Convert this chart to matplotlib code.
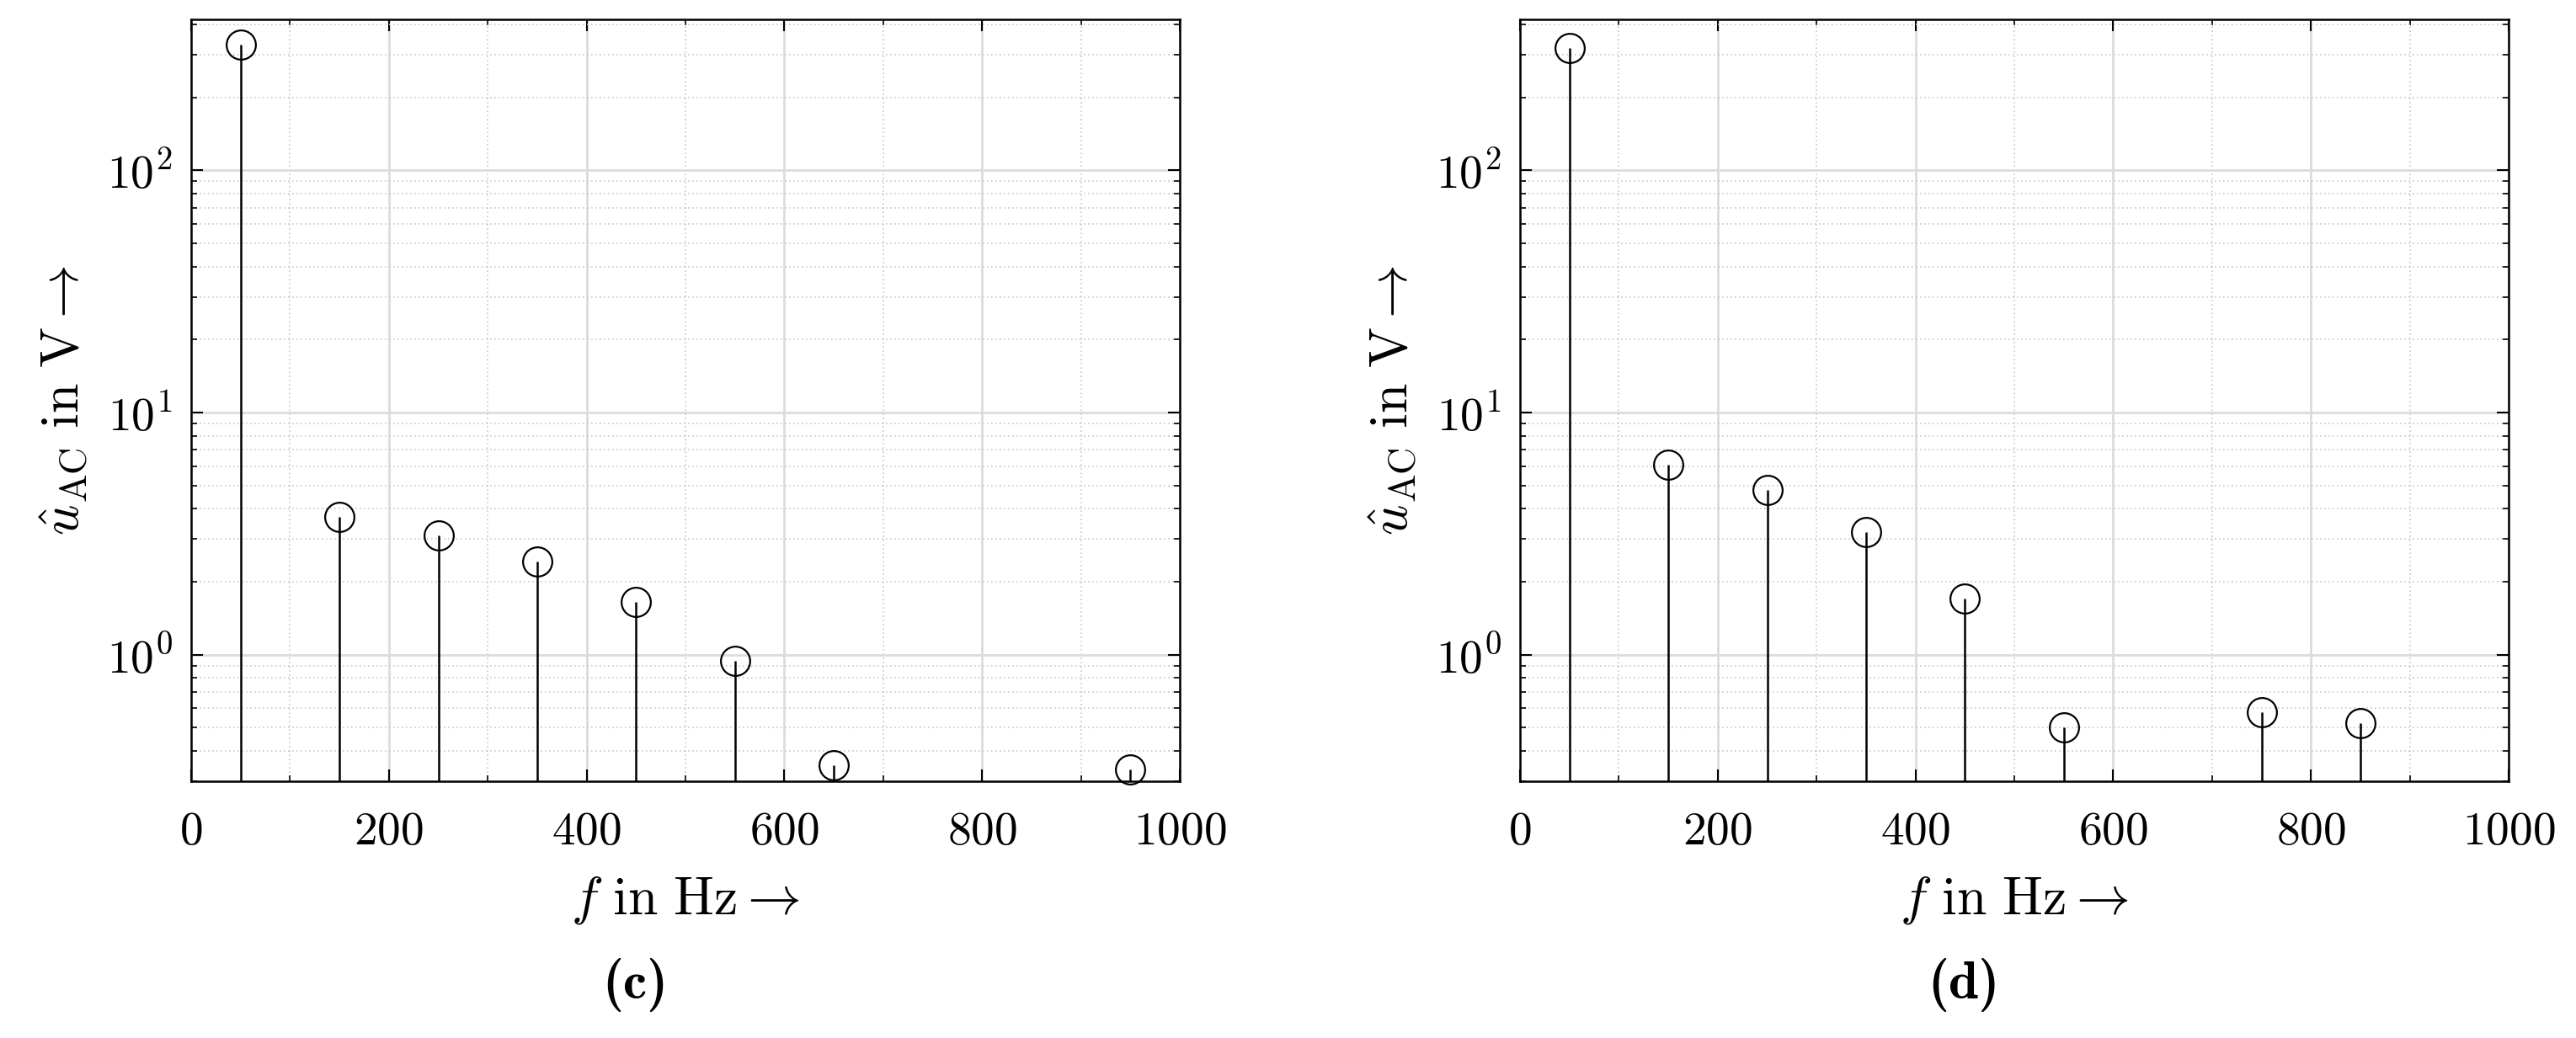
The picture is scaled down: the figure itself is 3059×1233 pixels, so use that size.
import matplotlib.pyplot as plt
from matplotlib.ticker import MultipleLocator, LogLocator, NullFormatter

plt.rcParams['font.family'] = ['cmr10', 'DejaVu Serif']
plt.rcParams['mathtext.fontset'] = 'cm'
plt.rcParams['axes.formatter.use_mathtext'] = True

freq_c = [50, 150, 250, 350, 450, 550, 650, 950]
amp_c = [330, 3.7, 3.1, 2.42, 1.65, 0.94, 0.35, 0.335]
freq_d = [50, 150, 250, 350, 450, 550, 750, 850]
amp_d = [320, 6.1, 4.8, 3.2, 1.7, 0.5, 0.58, 0.52]
captions = ['(c)', '(d)']

W, H = 3059, 1233
fig = plt.figure(figsize=(W / 100, H / 100), dpi=100)
lefts = [227, 1805]
aw, atop, abot = 1174, 23, 928
for left, fr, am, cap in zip(lefts, [freq_c, freq_d], [amp_c, amp_d], captions):
    ax = fig.add_axes([left / W, 1 - abot / H, aw / W, (abot - atop) / H])
    ymin = 0.3
    ax.set_yscale('log')
    ax.vlines(fr, ymin, am, color='black', lw=1.8, zorder=3)
    ax.plot(fr, am, 'o', mfc='none', mec='black', ms=25, mew=1.6, zorder=4,
            clip_on=False)
    ax.set_xlim(0, 1000)
    ax.set_ylim(ymin, 420)
    ax.xaxis.set_major_locator(MultipleLocator(200))
    ax.xaxis.set_minor_locator(MultipleLocator(100))
    ax.yaxis.set_major_locator(LogLocator(base=10))
    ax.yaxis.set_minor_locator(LogLocator(base=10, subs=range(2, 10)))
    ax.yaxis.set_minor_formatter(NullFormatter())
    ax.grid(which='major', color='#dcdcdc', lw=2)
    ax.grid(which='minor', color='#c8c8c8', lw=1.2, ls=(0, (1, 2)))
    ax.set_axisbelow(True)
    ax.tick_params(which='both', direction='in', top=True, right=True,
                   labelsize=40, pad=16)
    ax.tick_params(axis='x', pad=26)
    ax.tick_params(which='major', length=10, width=1.5)
    ax.tick_params(which='minor', length=5, width=1.2)
    for s in ax.spines.values():
        s.set_linewidth(1.8)
    ax.set_xlabel(r'$f\ \mathrm{in\ Hz} \rightarrow$', fontsize=46, labelpad=18)
    ax.set_ylabel(r'$\hat{u}_{\mathrm{AC}}\ \mathrm{in\ V} \rightarrow$',
                  fontsize=46, labelpad=14)
    fig.text((left + aw / 2 - 60) / W, 1 - 1170 / H, cap, ha='center',
             va='center', fontsize=46, fontfamily='cmb10')

fig.savefig('out.png', dpi=100)
